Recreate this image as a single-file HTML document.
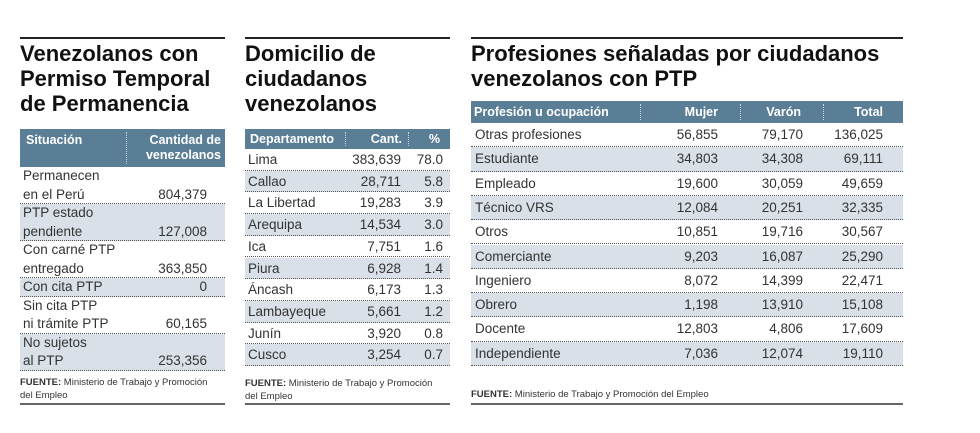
<!DOCTYPE html>
<html><head><meta charset="utf-8">
<style>
*{margin:0;padding:0;box-sizing:border-box}
body{width:980px;height:433px;background:#fff;font-family:"Liberation Sans",sans-serif;color:#222;position:relative;overflow:hidden}
.blk{position:absolute}
.topline{position:absolute;left:0;right:0;top:0;height:2px;background:#222}
.title{position:absolute;left:0;font-weight:bold;font-size:22px;line-height:25px;color:#111;letter-spacing:0px}
.hdr{position:absolute;left:0;right:0;background:#5b7e97;color:#fff;font-weight:bold;font-size:12.5px}
.hdr span{position:absolute}
.sep{position:absolute;top:3px;bottom:3px;border-left:1px dotted #c8d6e0}
.row{position:absolute;left:0;right:0;border-bottom:1px dotted #555;font-size:13.5px;color:#333}
.row.s{background:#d9e0e8}
.row span{position:absolute}
.foot{position:absolute;left:0;font-size:9.5px;line-height:13px;color:#333}
.bot{position:absolute;left:0;right:0;height:2px;background:#666}
</style></head><body>

<div class="blk" style="left:20px;top:37px;width:205px;height:370px">
 <div class="topline"></div>
 <div class="title" style="top:4px">Venezolanos con<br>Permiso Temporal<br>de Permanencia</div>
 <div class="hdr" style="top:92px;height:38px">
  <span style="left:6px;top:4px">Situación</span>
  <div class="sep" style="left:106px"></div>
  <span style="right:4px;top:4px;text-align:right;line-height:15px">Cantidad de<br>venezolanos</span>
 </div>
 <div id="t1"></div>
 <div class="foot" style="top:339px"><b>FUENTE:</b> Ministerio de Trabajo y Promoción<br>del Empleo</div>
 <div class="bot" style="top:366px"></div>
</div>

<div class="blk" style="left:245px;top:37px;width:205px;height:370px">
 <div class="topline"></div>
 <div class="title" style="top:4px">Domicilio de<br>ciudadanos<br>venezolanos</div>
 <div class="hdr" style="top:92px;height:20px">
  <span style="left:5px;top:3px">Departamento</span>
  <div class="sep" style="left:100px"></div>
  <span style="right:48px;top:3px">Cant.</span>
  <div class="sep" style="left:163px"></div>
  <span style="right:10px;top:3px">%</span>
 </div>
 <div id="t2"></div>
 <div class="foot" style="top:340px"><b>FUENTE:</b> Ministerio de Trabajo y Promoción<br>del Empleo</div>
 <div class="bot" style="top:366px"></div>
</div>

<div class="blk" style="left:471px;top:37px;width:432px;height:370px">
 <div class="topline"></div>
 <div class="title" style="top:4px">Profesiones señaladas por ciudadanos<br>venezolanos con PTP</div>
 <div class="hdr" style="top:64px;height:22px">
  <span style="left:3px;top:4px">Profesión u ocupación</span>
  <div class="sep" style="left:169px"></div>
  <span style="right:185px;top:4px">Mujer</span>
  <div class="sep" style="left:269px"></div>
  <span style="right:102px;top:4px">Varón</span>
  <div class="sep" style="left:352px"></div>
  <span style="right:20px;top:4px">Total</span>
 </div>
 <div id="t3"></div>
 <div class="foot" style="top:351px"><b>FUENTE:</b> Ministerio de Trabajo y Promoción del Empleo</div>
 <div class="bot" style="top:366px"></div>
</div>

<script>
const t1Labels=[["Permanecen","en el Perú"],["PTP estado","pendiente"],["Con carné PTP","entregado"],["Con cita PTP"],["Sin cita PTP","ni trámite PTP"],["No sujetos","al PTP"]];
const t1Values=["804,379","127,008","363,850","0","60,165","253,356"];
const t2Labels=["Lima","Callao","La Libertad","Arequipa","Ica","Piura","Áncash","Lambayeque","Junín","Cusco"];
const t2Cant=["383,639","28,711","19,283","14,534","7,751","6,928","6,173","5,661","3,920","3,254"];
const t2Pct=["78.0","5.8","3.9","3.0","1.6","1.4","1.3","1.2","0.8","0.7"];
const t3Labels=["Otras profesiones","Estudiante","Empleado","Técnico VRS","Otros","Comerciante","Ingeniero","Obrero","Docente","Independiente"];
const t3Mujer=["56,855","34,803","19,600","12,084","10,851","9,203","8,072","1,198","12,803","7,036"];
const t3Varon=["79,170","34,308","30,059","20,251","19,716","16,087","14,399","13,910","4,806","12,074"];
const t3Total=["136,025","69,111","49,659","32,335","30,567","25,290","22,471","15,108","17,609","19,110"];

function cell(row,txt,style){const s=document.createElement('span');s.textContent=txt;s.setAttribute('style',style);


row.appendChild(s);}

let y=130;const t1=document.getElementById('t1');
t1Labels.forEach((lab,i)=>{const h=lab.length*18.5;const r=document.createElement('div');
r.className='row'+(i%2?' s':'');r.style.top=y+'px';r.style.height=h+'px';


lab.forEach((l,j)=>cell(r,l,'left:3px;top:'+(j*18.5+1)+'px'));
cell(r,t1Values[i],'right:18px;top:'+((lab.length-1)*18.5+1)+'px');
t1.appendChild(r);y+=h;});

const t2=document.getElementById('t2');
t2Labels.forEach((l,i)=>{const r=document.createElement('div');r.className='row'+(i%2?' s':'');
r.style.top=(112+i*21.7)+'px';r.style.height='21.7px';


cell(r,l,'left:3px;top:3px');cell(r,t2Cant[i],'right:49px;top:3px');cell(r,t2Pct[i],'right:7px;top:3px');
t2.appendChild(r);});

const t3=document.getElementById('t3');
t3Labels.forEach((l,i)=>{const r=document.createElement('div');r.className='row'+(i%2?' s':'');
r.style.top=(86+i*24.3)+'px';r.style.height='24.3px';


cell(r,l,'left:4px;top:4px');cell(r,t3Mujer[i],'right:185px;top:4px');cell(r,t3Varon[i],'right:100px;top:4px');cell(r,t3Total[i],'right:20px;top:4px');
t3.appendChild(r);});
</script>
</body></html>
